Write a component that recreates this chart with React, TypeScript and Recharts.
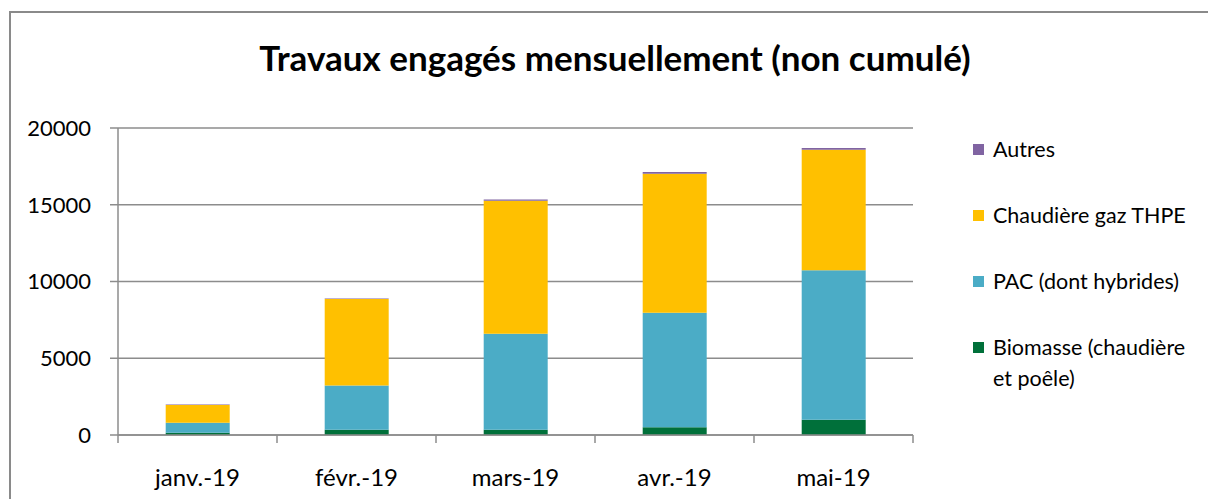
import { BarChart, Bar, XAxis, YAxis, CartesianGrid } from 'recharts';

const months = ['janv.-19', 'févr.-19', 'mars-19', 'avr.-19', 'mai-19'];
const biomasse = [150, 350, 350, 500, 1000];
const pac = [650, 2870, 6250, 7470, 9730];
const gaz = [1150, 5640, 8660, 9050, 7860];
const autres = [30, 40, 90, 110, 110];
const yTicks = [0, 5000, 10000, 15000, 20000];

const series = [
    { key: 'biomasse', name: 'Biomasse (chaudière et poêle)', color: '#00703A' },
    { key: 'pac', name: 'PAC (dont hybrides)', color: '#4BACC6' },
    { key: 'gaz', name: 'Chaudière gaz THPE', color: '#FFC000' },
    { key: 'autres', name: 'Autres', color: '#8064A2' },
];

const data = months.map((m, i) => ({
    month: m,
    biomasse: biomasse[i],
    pac: pac[i],
    gaz: gaz[i],
    autres: autres[i],
}));

const W = 1208;
const H = 499;
const PLOT_LEFT = 118;
const PLOT_RIGHT = 913;
const PLOT_TOP = 128;
const PLOT_BOTTOM = 435;
const BAND = (PLOT_RIGHT - PLOT_LEFT) / months.length;
const FONT = 'Lato, "Open Sans", sans-serif';
const AXIS = '#8c8c8c';

function MonthTick(props: any) {
    const { x, payload, index } = props;
    const y0 = PLOT_BOTTOM;
    return (
        <g>
            <line x1={x - BAND / 2} x2={x - BAND / 2} y1={y0} y2={y0 + 8} stroke={AXIS} strokeWidth={1.5} />
            {index === months.length - 1 && (
                <line x1={x + BAND / 2} x2={x + BAND / 2} y1={y0} y2={y0 + 8} stroke={AXIS} strokeWidth={1.5} />
            )}
            <text x={x} y={y0 + 51} textAnchor="middle" fontSize={24} fill="#000" fontFamily={FONT}>
                {payload.value}
            </text>
        </g>
    );
}

function LegendBox() {
    const items = [...series].reverse();
    return (
        <div style={{ position: 'absolute', left: 973, top: 135, fontFamily: FONT, fontSize: 21.5, color: '#000' }}>
            {items.map((s) => (
                <div key={s.key} style={{ display: 'flex', alignItems: 'flex-start', height: 66, width: 235 }}>
                    <span style={{ display: 'inline-block', width: 11, height: 11, background: s.color, marginTop: 9, marginRight: 9, flex: 'none' }} />
                    <span style={{ lineHeight: '31px', marginTop: -1, width: 205 }}>{s.name}</span>
                </div>
            ))}
        </div>
    );
}

export default function App() {
    return (
        <div style={{ position: 'absolute', left: 0, top: 0, width: W, height: H, overflow: 'hidden', background: '#fff' }}>
            <div style={{ position: 'absolute', left: 9, top: 11, width: 1400, height: 800, border: '2px solid #8a8a8a' }} />
            <div
                style={{
                    position: 'absolute',
                    left: 0,
                    width: 1230,
                    top: 36,
                    textAlign: 'center',
                    fontFamily: FONT,
                    fontWeight: 'bold',
                    fontSize: 35,
                    color: '#000',
                }}
            >
                Travaux engagés mensuellement (non cumulé)
            </div>
            <div style={{ position: 'absolute', left: 0, top: 0 }}>
                <BarChart
                    width={W}
                    height={H}
                    data={data}
                    margin={{ top: PLOT_TOP, right: W - PLOT_RIGHT, bottom: 0, left: 0 }}
                    barCategoryGap="30%"
                >
                    <CartesianGrid horizontal vertical={false} stroke={AXIS} strokeWidth={1.5} />
                    <XAxis
                        dataKey="month"
                        axisLine={{ stroke: AXIS, strokeWidth: 1.5 }}
                        tickLine={false}
                        tick={<MonthTick />}
                        interval={0}
                        height={H - PLOT_BOTTOM}
                    />
                    <YAxis
                        width={PLOT_LEFT}
                        domain={[0, 20000]}
                        ticks={yTicks}
                        interval={0}
                        axisLine={{ stroke: AXIS, strokeWidth: 1.5 }}
                        tickLine={{ stroke: AXIS, strokeWidth: 1.5 }}
                        tickSize={8}
                        tickMargin={19}
                        tick={{ fontSize: 22, fill: '#000', fontFamily: FONT }}
                    />
                    {series.map((s) => (
                        <Bar
                            key={s.key}
                            dataKey={s.key}
                            name={s.name}
                            stackId="a"
                            fill={s.color}
                            isAnimationActive={false}
                        />
                    ))}
                </BarChart>
            </div>
            <LegendBox />
        </div>
    );
}
